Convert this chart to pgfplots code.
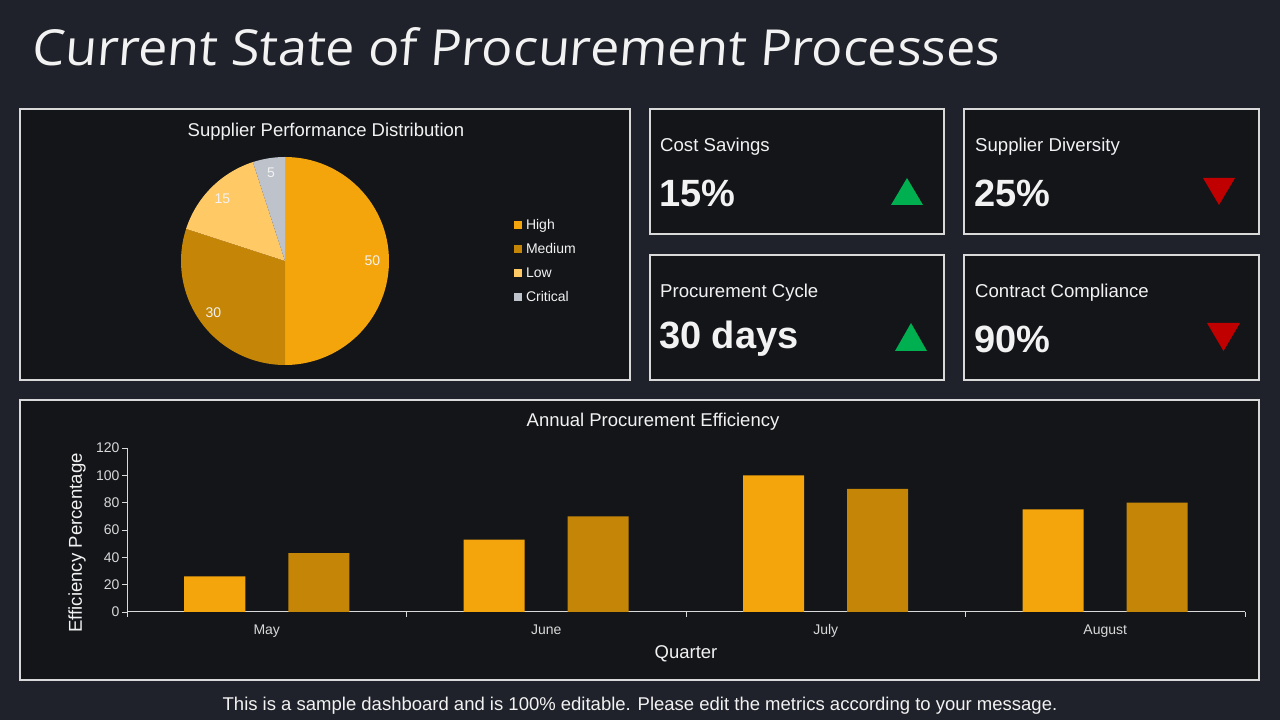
\documentclass[border=0pt]{standalone}
\usepackage{pgfplots}
\pgfplotsset{compat=1.18}
\usepackage{fontspec}
\setmainfont{Liberation Sans}
\newfontfamily\titlefont{Open Sans}
\definecolor{pagebg}{HTML}{1F222A}
\definecolor{panelbg}{HTML}{131519}
\definecolor{panelborder}{HTML}{D9D9D9}
\definecolor{cHigh}{HTML}{F5A50C}
\definecolor{cMed}{HTML}{C58608}
\definecolor{cLow}{HTML}{FFC966}
\definecolor{cCrit}{HTML}{BEC2CA}
\definecolor{txt}{HTML}{F2F2F2}
\definecolor{tick}{HTML}{D9D9D9}
\definecolor{upg}{HTML}{00B050}
\definecolor{dnr}{HTML}{C00000}
\newcommand\fs[1]{\fontsize{#1}{#1}\selectfont}
\begin{document}
\begin{tikzpicture}[x=1pt,y=1pt]
\fill[pagebg] (0,0) rectangle (1280,720);
% title
\begin{scope}[xslant=0.08]
\node[anchor=base west,inner sep=0,text=txt,transform shape] at (-21,654) {\resizebox{968pt}{38pt}{\titlefont Current State of Procurement Processes}};
\end{scope}
% panels
\foreach \a/\b/\c/\d in {20/340/630/611, 650/486/944/611, 964/486/1259/611, 650/340/944/465, 964/340/1259/465, 20/40/1259/320}
  \draw[panelborder,line width=1.3pt,fill=panelbg] (\a,\b) rectangle (\c,\d);
% KPI texts
\node[anchor=west,text=txt,inner sep=0] at (660,573) {\fs{18.6}Cost Savings};
\node[anchor=west,text=txt,inner sep=0] at (975,573) {\fs{18.6}Supplier Diversity};
\node[anchor=west,text=txt,inner sep=0] at (660,427) {\fs{18.6}Procurement Cycle};
\node[anchor=west,text=txt,inner sep=0] at (975,427) {\fs{18.6}Contract Compliance};
\node[anchor=west,text=txt,inner sep=0] at (659,527) {\fs{38}\bfseries 15\%};
\node[anchor=west,text=txt,inner sep=0] at (974,527) {\fs{38}\bfseries 25\%};
\node[anchor=west,text=txt,inner sep=0] at (659,381) {\fs{38}\bfseries 30 days};
\node[anchor=west,text=txt,inner sep=0] at (974,381) {\fs{38}\bfseries 90\%};
\fill[upg] (891,515) -- (923,515) -- (907,542) -- cycle;
\fill[dnr] (1203,542) -- (1235,542) -- (1219,515) -- cycle;
\fill[upg] (895,369) -- (927,369) -- (911,397) -- cycle;
\fill[dnr] (1207,397) -- (1240,397) -- (1223.5,369) -- cycle;
% pie
\node[text=txt] at (326,588) {\fs{18.5}Supplier Performance Distribution};
\begin{axis}[at={(285pt,459pt)},anchor=center,x=104pt,y=104pt,
  xmin=-1.1,xmax=1.1,ymin=-1.1,ymax=1.1,hide axis,
  legend style={at={(axis cs:2.2,0)},anchor=west,draw=none,fill=none,
    text=txt,font=\fs{14},row sep=10.5pt,inner sep=0pt,
    nodes={inner sep=1pt}},
  legend cell align=left,
  legend image code/.code={\fill[#1,draw=none] (0pt,-4pt) rectangle (8pt,4pt);\path[draw=none,fill=none] (0pt,0pt) -- (11pt,0pt);}]
\addlegendimage{cHigh}\addlegendentry{High}
\addlegendimage{cMed}\addlegendentry{Medium}
\addlegendimage{cLow}\addlegendentry{Low}
\addlegendimage{cCrit}\addlegendentry{Critical}
\fill[cHigh] (axis cs:0,0) -- (axis cs:0,1) arc[start angle=90,delta angle=-50*3.6,radius=104pt] -- cycle;
\fill[cMed] (axis cs:0,0) -- (axis cs:0,-1) arc[start angle=-90,delta angle=-30*3.6,radius=104pt] -- cycle;
\fill[cLow] (axis cs:0,0) -- (axis cs:{cos(162)},{sin(162)}) arc[start angle=162,delta angle=-15*3.6,radius=104pt] -- cycle;
\fill[cCrit] (axis cs:0,0) -- (axis cs:{cos(108)},{sin(108)}) arc[start angle=108,delta angle=-5*3.6,radius=104pt] -- cycle;
\node[text=txt] at (axis cs:{0.84*cos(0)},{0.84*sin(0)}) {\fs{14}50};
\node[text=txt] at (axis cs:{0.85*cos(-144)},{0.85*sin(-144)}) {\fs{14}30};
\node[text=txt] at (axis cs:{0.85*cos(135)},{0.85*sin(135)}) {\fs{14}15};
\node[text=txt] at (axis cs:{0.86*cos(99)},{0.86*sin(99)}) {\fs{14}5};
\end{axis}
% bar chart
\node[text=txt] at (653,298) {\fs{18.5}Annual Procurement Efficiency};
\node[text=txt,rotate=90] at (77,177) {\fs{18.6}Efficiency Percentage};
\node[text=txt] at (686,66) {\fs{18.5}Quarter};
\begin{axis}[at={(127pt,108pt)},anchor=south west,scale only axis,
  width=1118pt,height=164pt,
  xmin=-0.5,xmax=3.5,ymin=0,ymax=120,
  ytick={0,20,...,120},
  xtick={0,1,2,3},xticklabels={May,June,July,August},
  minor xtick={-0.5,0.5,1.5,2.5,3.5},
  major x tick style={draw=none},
  minor tick length=5pt, major tick length=5pt,
  tick align=outside,
  axis x line*=bottom, axis y line*=left,
  axis line style={draw=panelborder,line width=1pt,-},
  tick style={draw=panelborder,line width=0.8pt},
  tick label style={font=\fs{14},text=tick},
  /pgf/number format/assume math mode=true,
  xticklabel style={yshift=-4pt},
  yticklabel style={xshift=1pt},
  clip=false]
\addplot[ybar,bar width=61pt,bar shift=-52pt,fill=cHigh,draw=none] coordinates {(0,26) (1,53) (2,100) (3,75)};
\addplot[ybar,bar width=61pt,bar shift=52pt,fill=cMed,draw=none] coordinates {(0,43) (1,70) (2,90) (3,80)};
\end{axis}
\node[text=txt] at (640,14.5) {\fs{18.5}This is a sample dashboard and is 100\% editable. Please edit the metrics according to your message.};
\end{tikzpicture}
\end{document}
